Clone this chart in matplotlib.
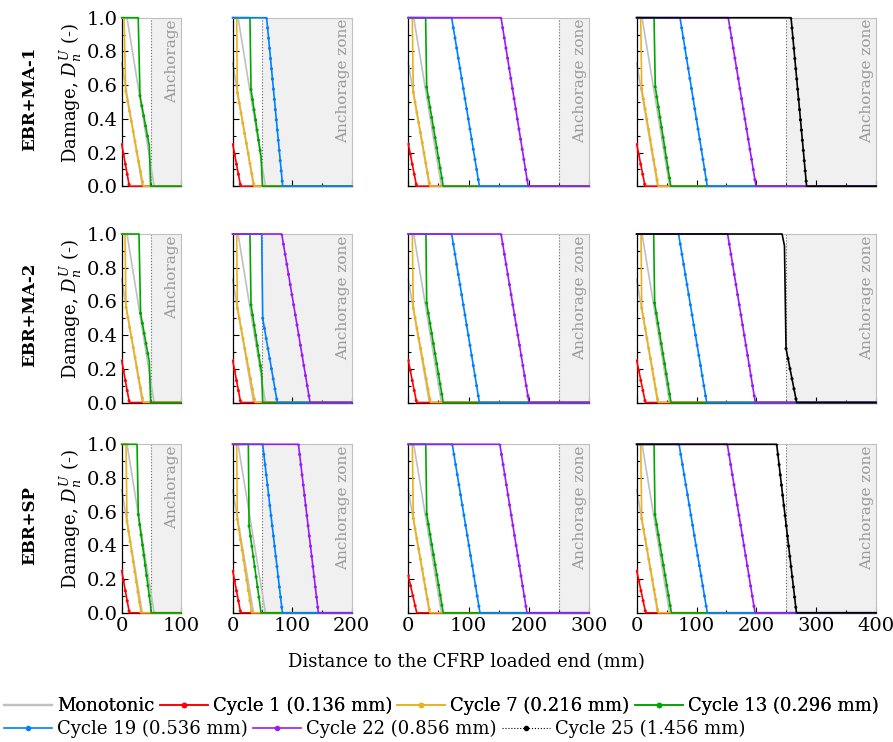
import numpy as np
import matplotlib.pyplot as plt
from matplotlib.lines import Line2D
from matplotlib.ticker import MultipleLocator, FormatStrFormatter

plt.rcParams['font.family'] = 'DejaVu Serif'
plt.rcParams['mathtext.fontset'] = 'dejavuserif'

# panel set-up (bonded length, start of anchorage zone)
lengths = [100, 200, 300, 400]
anch_start = [50, 50, 250, 250]
anch_text = ['Anchorage', 'Anchorage zone', 'Anchorage zone', 'Anchorage zone']
row_names = ['EBR+MA-1', 'EBR+MA-2', 'EBR+SP']

nan = np.nan
# monotonic (same for the three systems)
mono_x = [[0, 35, nan, 0, 9, 55, 100], [0, 35, nan, 0, 9, 55, 200],
          [0, 35, nan, 0, 9, 55, 300], [0, 35, nan, 0, 9, 55, 400]]
mono_y = [[0.73, 0, nan, 1, 1, 0, 0]] * 4

# ---- EBR+MA-1 ----
ma1_c1_x = [[0, 13, 100], [0, 13.4, 200], [0, 13.8, 300], [0, 14, 400]]
ma1_c1_y = [[0.25, 0, 0], [0.25, 0, 0], [0.25, 0, 0], [0.25, 0, 0]]
ma1_c7_x = [[0, 3.9, 6.8, 36.6, 100], [0, 6.7, 7.8, 36, 200], [0, 6.6, 8.3, 36, 300], [0, 6.7, 8.4, 36, 400]]
ma1_c7_y = [[1, 1, 0.565, 0, 0], [1, 1, 0.554, 0, 0], [1, 1, 0.558, 0, 0], [1, 1, 0.578, 0, 0]]
ma1_c13_x = [[0, 28, 31, 46.8, 49, 100], [0, 29, 30.8, 47.6, 50, 200], [0, 28.8, 30.5, 58, 300], [0, 29, 31, 57, 400]]
ma1_c13_y = [[1, 1, 0.537, 0.24, 0, 0], [1, 1, 0.574, 0.178, 0, 0], [1, 1, 0.588, 0, 0], [1, 1, 0.59, 0, 0]]
ma1_c19_x = [None, [0, 57, 84, 200], [0, 72, 118, 300], [0, 72.4, 118, 400]]
ma1_c19_y = [None, [1, 1, 0, 0], [1, 1, 0, 0], [1, 1, 0, 0]]
ma1_c22_x = [None, None, [0, 154, 199, 300], [0, 153, 199.4, 400]]
ma1_c22_y = [None, None, [1, 1, 0, 0], [1, 1, 0, 0]]
ma1_c25_x = [None, None, None, [0, 258, 284, 400]]
ma1_c25_y = [None, None, None, [1, 1, 0, 0]]

# ---- EBR+MA-2 ----
ma2_c1_x = [[0, 13, 100], [0, 13.4, 200], [0, 13.8, 300], [0, 14.5, 400]]
ma2_c1_y = [[0.25, 0, 0], [0.25, 0, 0], [0.25, 0, 0], [0.25, 0, 0]]
ma2_c7_x = [[0, 5.6, 7.3, 36.5, 100], [0, 6.7, 7.8, 37.5, 200], [0, 6.6, 8.3, 37, 300], [0, 7.2, 8.4, 36, 400]]
ma2_c7_y = [[1, 1, 0.565, 0, 0], [1, 1, 0.559, 0, 0], [1, 1, 0.56, 0, 0], [1, 1, 0.56, 0, 0]]
ma2_c13_x = [[0, 29.3, 32, 46.8, 49, 100], [0, 29, 30.8, 48.7, 50.4, 200], [0, 29.3, 30.5, 58, 300], [0, 28.4, 30, 57.4, 400]]
ma2_c13_y = [[1, 1, 0.53, 0.243, 0, 0], [1, 1, 0.579, 0.174, 0, 0], [1, 1, 0.59, 0, 0], [1, 1, 0.59, 0, 0]]
ma2_c19_x = [None, [0, 48.7, 50.4, 75, 200], [0, 72, 118, 300], [0, 70, 117, 400]]
ma2_c19_y = [None, [1, 1, 0.5, 0, 0], [1, 1, 0, 0], [1, 1, 0, 0]]
ma2_c22_x = [None, [0, 82.4, 130, 200], [0, 154, 200.4, 300], [0, 152, 198.3, 400]]
ma2_c22_y = [None, [1, 1, 0, 0], [1, 1, 0, 0], [1, 1, 0, 0]]
ma2_c25_x = [None, None, None, [0, 243, 247, 249.6, 267.4, 400]]
ma2_c25_y = [None, None, None, [1, 1, 0.93, 0.32, 0, 0]]

# ---- EBR+SP ----
sp_c1_x = [[0, 13, 100], [0, 13.4, 200], [0, 14, 300], [0, 15, 400]]
sp_c1_y = [[0.25, 0, 0], [0.25, 0, 0], [0.22, 0, 0], [0.25, 0, 0]]
sp_c7_x = [[0, 7.3, 9, 32.8, 100], [0, 6.7, 7.8, 32, 200], [0, 6.7, 8.3, 36, 300], [0, 6.7, 8.4, 36, 400]]
sp_c7_y = [[1, 1, 0.544, 0, 0], [1, 1, 0.554, 0, 0], [1, 1, 0.56, 0, 0], [1, 1, 0.558, 0, 0]]
sp_c13_x = [[0, 26, 28.2, 48.5, 50, 100], [0, 26.3, 27.5, 46, 47.6, 200], [0, 29, 30.6, 58, 300], [0, 29, 30.6, 58, 400]]
sp_c13_y = [[1, 1, 0.583, 0.055, 0, 0], [1, 1, 0.515, 0.043, 0, 0], [1, 1, 0.585, 0, 0], [1, 1, 0.583, 0, 0]]
sp_c19_x = [None, [0, 50.4, 83.5, 200], [0, 73, 119, 300], [0, 70.8, 118, 400]]
sp_c19_y = [None, [1, 1, 0, 0], [1, 1, 0, 0], [1, 1, 0, 0]]
sp_c22_x = [None, [0, 110.5, 144, 200], [0, 152, 197, 300], [0, 151.5, 197.8, 400]]
sp_c22_y = [None, [1, 1, 0, 0], [1, 1, 0, 0], [1, 1, 0, 0]]
sp_c25_x = [None, None, None, [0, 234, 267, 400]]
sp_c25_y = [None, None, None, [1, 1, 0, 0]]

labels = ['Monotonic', 'Cycle 1 (0.136 mm)', 'Cycle 7 (0.216 mm)', 'Cycle 13 (0.296 mm)',
          'Cycle 19 (0.536 mm)', 'Cycle 22 (0.856 mm)', 'Cycle 25 (1.456 mm)']
colors = ['#c0c0c0', '#ff0000', '#edb120', '#00a600', '#0080ff', '#9b1bf5', '#000000']

rows = [
    [(ma1_c1_x, ma1_c1_y), (ma1_c7_x, ma1_c7_y), (ma1_c13_x, ma1_c13_y),
     (ma1_c19_x, ma1_c19_y), (ma1_c22_x, ma1_c22_y), (ma1_c25_x, ma1_c25_y)],
    [(ma2_c1_x, ma2_c1_y), (ma2_c7_x, ma2_c7_y), (ma2_c13_x, ma2_c13_y),
     (ma2_c19_x, ma2_c19_y), (ma2_c22_x, ma2_c22_y), (ma2_c25_x, ma2_c25_y)],
    [(sp_c1_x, sp_c1_y), (sp_c7_x, sp_c7_y), (sp_c13_x, sp_c13_y),
     (sp_c19_x, sp_c19_y), (sp_c22_x, sp_c22_y), (sp_c25_x, sp_c25_y)],
]

W, H = 893, 742
col_left = [121.7, 232.7, 408.3, 636.7]
col_w = [59, 119, 180.7, 239.3]
row_top = [17.7, 234, 444.3]
row_h = 168.5

fig = plt.figure(figsize=(W / 100, H / 100), dpi=100)


def draw_curve(ax, xs, ys, color):
    ax.plot(xs, ys, color=color, lw=1.2, clip_on=False, zorder=3)
    # node markers along the sloping part
    for i in range(len(xs) - 1):
        if xs[i + 1] - xs[i] > 4 and ys[i + 1] != ys[i]:
            ax.plot(xs[i:i + 2], ys[i:i + 2], color=color, lw=2.3,
                    linestyle=(0, (0.01, 3.2)), dash_capstyle='round', zorder=3)


for r in range(3):
    for c in range(4):
        ax = fig.add_axes([col_left[c] / W, 1 - (row_top[r] + row_h) / H, col_w[c] / W, row_h / H])
        L = lengths[c]
        ax.set_xlim(0, L)
        ax.set_ylim(0, 1)
        ax.axvspan(anch_start[c], L, color='#f0f0f0', zorder=0, lw=0)
        ax.axvline(anch_start[c], color='#666666', ls=':', lw=0.8, zorder=1)
        ax.annotate(anch_text[c], xy=(1, 1), xycoords='axes fraction', xytext=(-1.5, -1),
                    textcoords='offset points', rotation=90, ha='right', va='top',
                    color='#999999', fontsize=11, zorder=2)
        ax.plot(mono_x[c], mono_y[c], color=colors[0], lw=1.2, clip_on=False, zorder=2)
        for k, (cx, cy) in enumerate(rows[r]):
            if cx[c] is not None:
                draw_curve(ax, cx[c], cy[c], colors[k + 1])

        ax.yaxis.set_major_locator(MultipleLocator(0.2))
        ax.yaxis.set_minor_locator(MultipleLocator(0.1))
        ax.xaxis.set_major_locator(MultipleLocator(100))
        ax.xaxis.set_minor_locator(MultipleLocator(50))
        ax.yaxis.set_major_formatter(FormatStrFormatter('%.1f'))
        ax.tick_params(which='both', direction='in', width=0.8, labelsize=14, pad=3)
        ax.tick_params(which='major', length=4)
        ax.tick_params(which='minor', length=2.5)
        ax.tick_params(labelleft=(c == 0), labelbottom=(r == 2))
        for s in ['top', 'right']:
            ax.spines[s].set_color('#c0c0c0')
        for s in ['left', 'bottom']:
            ax.spines[s].set_linewidth(0.9)
        if c == 0:
            ax.set_ylabel(r'Damage, $D_n^U$ (-)', fontsize=13, labelpad=2)
            ax.yaxis.label.set_y(0.555)
            fig.text(30 / W, 1 - (row_top[r] + row_h / 2 - 3) / H, row_names[r], rotation=90,
                     fontsize=12, fontweight='bold', ha='center', va='center')

fig.text(466 / W, 1 - 662 / H, 'Distance to the CFRP loaded end (mm)', fontsize=13, ha='center', va='center')

handles = []
for k, lab in enumerate(labels):
    if k == 0:
        handles.append(Line2D([], [], color=colors[0], lw=1.6))
    elif k == 6:
        handles.append(Line2D([], [], color='black', lw=0.8, ls=':', marker='o', ms=3))
    else:
        handles.append(Line2D([], [], color=colors[k], lw=1.2, marker='o', ms=3))

leg1 = fig.legend(handles[:4], labels[:4], ncol=4, loc='center left', bbox_to_anchor=(4 / W, 1 - 706 / H),
                  frameon=False, fontsize=13, handlelength=2.65, handletextpad=0.28, columnspacing=0.3,
                  borderpad=0, borderaxespad=0)
leg2 = fig.legend(handles[4:], labels[4:], ncol=3, loc='center left', bbox_to_anchor=(4 / W, 1 - 729 / H),
                  frameon=False, fontsize=13, handlelength=2.65, handletextpad=0.28, columnspacing=0.3,
                  borderpad=0, borderaxespad=0)
fig.add_artist(leg1)

fig.savefig('out.png', dpi=100)
